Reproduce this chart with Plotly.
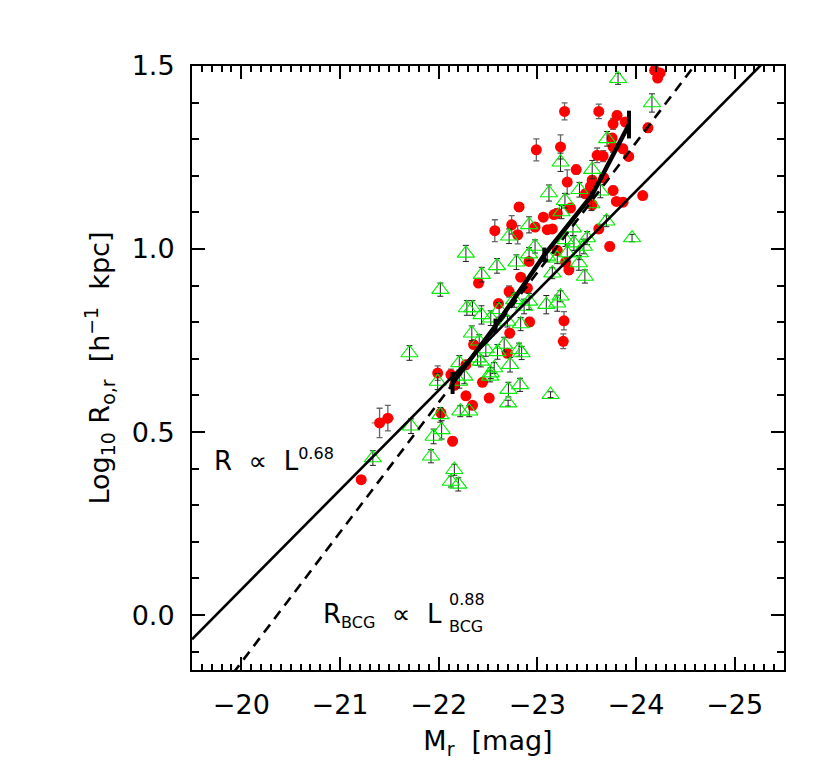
import plotly.graph_objects as go

# BCGs: absolute magnitude, log10 radius, error (red filled circles)
bcg_mag = [-23.276, -23.623, -23.808, -23.768, -23.892, -24.121, -24.189, -24.245, -24.219,
           -22.990, -23.235, -23.758, -23.768, -23.606, -23.667, -23.866, -23.926, -23.394,
           -23.303, -23.556, -23.674, -23.538, -23.488, -23.768, -23.801, -23.869, -24.068,
           -22.815, -23.061, -23.169, -23.202, -23.336, -23.556, -23.101, -23.152, -22.977,
           -22.569, -22.740, -22.801, -23.623, -23.734, -23.202, -23.286, -23.320, -22.916,
           -22.831, -22.404, -22.714, -22.899, -22.606, -22.922, -22.720, -23.270, -23.263,
           -22.354, -22.697, -22.276, -21.990, -22.124, -22.162, -22.444, -22.276, -22.512,
           -22.343, -22.023, -21.401, -21.485, -22.141, -21.215]
bcg_logr = [1.376, 1.376, 1.365, 1.342, 1.347, 1.331, 1.488, 1.481, 1.467,
            1.271, 1.279, 1.303, 1.279, 1.256, 1.254, 1.274, 1.253, 1.217,
            1.183, 1.188, 1.194, 1.171, 1.151, 1.160, 1.130, 1.128, 1.146,
            1.115, 1.087, 1.094, 1.098, 1.112, 1.121, 1.053, 1.055, 1.060,
            1.050, 1.066, 1.039, 1.055, 1.007, 0.996, 0.964, 0.943, 0.966,
            0.923, 0.907, 0.884, 0.893, 0.851, 0.801, 0.770, 0.804, 0.748,
            0.739, 0.715, 0.684, 0.661, 0.657, 0.628, 0.636, 0.599, 0.593,
            0.573, 0.552, 0.525, 0.538, 0.475, 0.370]
bcg_err = [0.023, 0.020, 0.012, 0.015, 0.010, 0.012, 0.010, 0.010, 0.010,
           0.030, 0.033, 0.012, 0.015, 0.020, 0.015, 0.012, 0.010, 0.012,
           0.033, 0.012, 0.012, 0.010, 0.012, 0.012, 0.010, 0.010, 0.010,
           0.012, 0.010, 0.010, 0.012, 0.010, 0.010, 0.010, 0.010, 0.012,
           0.030, 0.025, 0.025, 0.012, 0.012, 0.012, 0.012, 0.012, 0.010,
           0.010, 0.010, 0.015, 0.012, 0.010, 0.012, 0.012, 0.025, 0.020,
           0.010, 0.010, 0.012, 0.020, 0.015, 0.012, 0.010, 0.010, 0.010,
           0.010, 0.012, 0.040, 0.035, 0.012, 0.010]
bcg_err_mag = [0, 0, 0, 0, 0, 0, 0, 0, 0,
               0, 0, 0, 0, 0, 0, 0, 0, 0,
               0, 0, 0, 0, 0, 0, 0, 0, 0,
               0, 0, 0, 0, 0, 0, 0, 0, 0,
               0, 0, 0, 0, 0, 0, 0, 0, 0,
               0, 0, 0, 0, 0, 0, 0, 0, 0,
               0, 0, 0, 0, 0, 0, 0, 0, 0,
               0, 0, 0.08, 0.06, 0, 0]

# other galaxies (green open triangles)
gal_mag = [-23.818, -24.162, -23.707, -23.235, -23.556, -23.118, -23.427, -23.639, -23.280,
           -23.245, -23.548, -22.916, -23.361, -23.700, -23.960, -22.714, -22.276, -22.977,
           -23.286, -23.371, -23.505, -23.472, -23.431, -22.916, -22.788, -22.591, -23.303,
           -23.421, -22.437, -23.152, -23.482, -22.017, -22.286, -22.343, -22.434, -22.528,
           -22.613, -22.831, -22.916, -22.866, -23.091, -23.202, -23.235, -22.765, -22.697,
           -22.336, -21.704, -22.411, -22.478, -22.596, -22.664, -22.815, -22.841, -22.724,
           -22.563, -22.427, -22.209, -21.990, -22.209, -22.260, -22.528, -22.394, -22.522,
           -22.707, -22.825, -23.134, -22.704, -22.219, -22.310, -22.017, -22.030, -21.949,
           -21.720, -21.922, -21.333, -22.159, -22.124, -22.199, -23.101, -23.202]
gal_logr = [1.465, 1.399, 1.301, 1.237, 1.217, 1.153, 1.162, 1.158, 1.132,
            1.101, 1.123, 1.066, 1.057, 1.076, 1.030, 1.035, 0.988, 1.007,
            1.025, 1.016, 1.030, 1.007, 0.989, 0.986, 0.964, 0.954, 0.989,
            0.962, 0.930, 0.934, 0.925, 0.889, 0.839, 0.839, 0.820, 0.811,
            0.834, 0.795, 0.857, 0.843, 0.848, 0.852, 0.871, 0.861, 0.802,
            0.770, 0.716, 0.748, 0.727, 0.719, 0.739, 0.725, 0.716, 0.684,
            0.675, 0.693, 0.689, 0.638, 0.638, 0.652, 0.661, 0.702, 0.652,
            0.616, 0.629, 0.602, 0.579, 0.557, 0.557, 0.547, 0.506, 0.488,
            0.516, 0.434, 0.429, 0.397, 0.365, 0.357, 0.980, 0.975]
gal_err = [0.015, 0.025, 0.020, 0.025, 0.025, 0.022, 0.020, 0.018, 0.020,
           0.018, 0.018, 0.022, 0.020, 0.015, 0.010, 0.020, 0.022, 0.018,
           0.018, 0.020, 0.018, 0.020, 0.018, 0.018, 0.020, 0.020, 0.022,
           0.020, 0.020, 0.015, 0.018, 0.018, 0.020, 0.020, 0.025, 0.020,
           0.020, 0.018, 0.022, 0.020, 0.025, 0.022, 0.015, 0.020, 0.015,
           0.020, 0.020, 0.018, 0.020, 0.020, 0.020, 0.018, 0.018, 0.020,
           0.015, 0.015, 0.020, 0.022, 0.018, 0.020, 0.015, 0.020, 0.015,
           0.020, 0.018, 0.008, 0.008, 0.015, 0.015, 0.020, 0.025, 0.020,
           0.020, 0.018, 0.020, 0.015, 0.015, 0.018, 0.015, 0.015]

# binned relation (thick line with error bars)
bin_mag = [-22.141, -22.576, -23.071, -23.556, -23.929]
bin_logr = [0.634, 0.790, 0.984, 1.148, 1.340]
bin_err = [0.030, 0.020, 0.020, 0.010, 0.038]

# power-law fits, log R = r0 + slope * (m0 - M)
fit_all = {"m0": -19.5, "r0": -0.066, "slope": 0.272}    # R ~ L^0.68
fit_bcg = {"m0": -21.316, "r0": 0.338, "slope": 0.355}   # R_BCG ~ L_BCG^0.88
x_ends = [-19.5, -25.5]


def fit_line(fit):
    return [fit["r0"] + fit["slope"] * (fit["m0"] - m) for m in x_ends]


def small(s, px):
    return f'<span style="font-size:{px}px">{s}</span>'


FONT = "DejaVu Sans"

fig = go.Figure()

fig.add_trace(go.Scatter(
    x=bcg_mag, y=bcg_logr, mode="markers",
    marker=dict(symbol="circle", size=11, color="#ff0000", line=dict(width=0)),
    error_y=dict(type="data", array=bcg_err, color="#666666", thickness=1.3, width=3),
    error_x=dict(type="data", array=bcg_err_mag, color="#888888", thickness=1.3, width=0),
    showlegend=False,
))

fig.add_trace(go.Scatter(
    x=gal_mag, y=gal_logr, mode="markers",
    marker=dict(symbol="triangle-up-open", size=15, color="#00ee00", line=dict(width=1.1)),
    error_y=dict(type="data", array=gal_err, color="#222222", thickness=1, width=3),
    showlegend=False,
))

fig.add_trace(go.Scatter(
    x=x_ends, y=fit_line(fit_all), mode="lines",
    line=dict(color="black", width=2.6), showlegend=False,
))
fig.add_trace(go.Scatter(
    x=x_ends, y=fit_line(fit_bcg), mode="lines",
    line=dict(color="black", width=2.6, dash="10px,7px"), showlegend=False,
))
fig.add_trace(go.Scatter(
    x=bin_mag, y=bin_logr, mode="lines",
    line=dict(color="black", width=4.5),
    error_y=dict(type="data", array=bin_err, color="black", thickness=4, width=0),
    showlegend=False,
))

txt = dict(family=FONT, size=26, color="black")
fig.add_annotation(x=-19.707, y=0.423, xref="x", yref="y", showarrow=False,
                   xanchor="left", yanchor="middle",
                   text="R  ∝  L<sup>" + small("0.68", 16) + "</sup>", font=txt)
fig.add_annotation(x=-20.808, y=0.0, xref="x", yref="y", showarrow=False,
                   xanchor="left", yanchor="middle",
                   text="R<sub>" + small("BCG", 16) + "</sub>  ∝  L", font=txt)
fig.add_annotation(x=-22.08, y=0.043, xref="x", yref="y", showarrow=False,
                   xanchor="left", yanchor="middle",
                   text="0.88", font=dict(family=FONT, size=16, color="black"))
fig.add_annotation(x=-22.08, y=-0.030, xref="x", yref="y", showarrow=False,
                   xanchor="left", yanchor="middle",
                   text="BCG", font=dict(family=FONT, size=16, color="black"))

axis_common = dict(
    showline=True, linecolor="black", linewidth=2, mirror="allticks",
    ticks="inside", ticklen=13, tickwidth=1.8, tickcolor="black",
    showgrid=False, zeroline=False,
    tickfont=dict(family=FONT, size=27, color="black"),
)

fig.update_xaxes(
    range=[-19.5, -25.5], tick0=0, dtick=1,
    minor=dict(dtick=0.1, ticks="inside", ticklen=6, tickwidth=1.5, tickcolor="black", showgrid=False),
    title=dict(text="M<sub>r</sub>  [mag]", font=dict(family=FONT, size=27, color="black"), standoff=12),
    ticklabelstandoff=10,
    **axis_common,
)
fig.update_yaxes(
    range=[-0.15, 1.5], tick0=0, dtick=0.5, tickformat=".1f",
    minor=dict(dtick=0.1, ticks="inside", ticklen=7, tickwidth=1.5, tickcolor="black", showgrid=False),
    title=dict(text="Log<sub>10</sub> R<sub>o,r</sub>  [h<sup>−1</sup>  kpc]",
               font=dict(family=FONT, size=27, color="black"), standoff=14),
    ticklabelstandoff=10,
    **axis_common,
)

fig.update_layout(
    width=830, height=779,
    margin=dict(l=184, r=54, t=58, b=117),
    paper_bgcolor="white", plot_bgcolor="white",
    font=dict(family=FONT, color="black"),
)

fig.write_html("out.html")
